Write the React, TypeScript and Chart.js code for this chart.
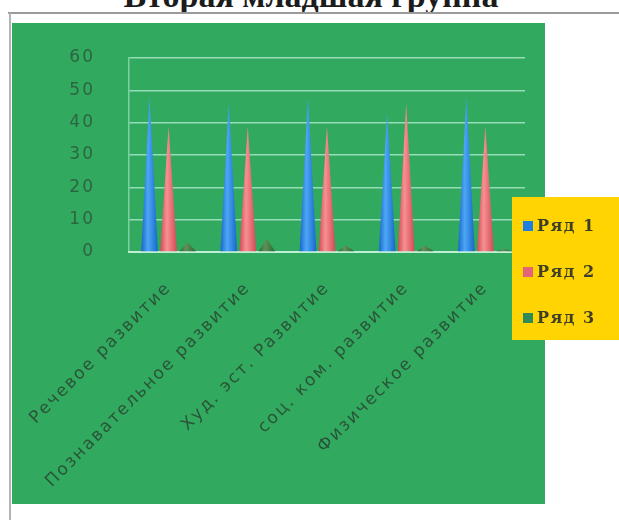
import React, { useEffect, useRef } from "react";
import { Chart, registerables } from "chart.js";

Chart.register(...registerables);

const titleText = "Вторая младшая группа";
const categories = [
  "Речевое развитие",
  "Познавательное развитие",
  "Худ. эст. Развитие",
  "соц. ком. развитие",
  "Физическое развитие",
];
const seriesNames = ["Ряд 1", "Ряд 2", "Ряд 3"];
const series1 = [48, 46, 48, 43, 48];
const series2 = [39, 39, 39, 46, 39];
const series3 = [3, 4, 2, 2, 1];
const yMin = 0;
const yMax = 60;
const yStep = 10;

const coneColors = [
  { dark: "#1668c8", light: "#4ea6f6", legend: "#1f7fe0" },
  { dark: "#d24a5a", light: "#f79090", legend: "#e2647a" },
  { dark: "#2c6636", light: "#5e9256", legend: "#2e8a58" },
];

const W = 607;
const H = 481;

const spacingPlugin = {
  id: "spacing",
  beforeUpdate(chart: any) {
    chart.ctx.letterSpacing = "2px";
  },
  beforeDraw(chart: any) {
    chart.ctx.letterSpacing = "2px";
  },
};

const backgroundPlugin = {
  id: "bg",
  beforeDraw(chart: any) {
    const ctx = chart.ctx;
    ctx.save();
    ctx.fillStyle = "#31a95f";
    ctx.fillRect(0, 0, 533, H);
    ctx.restore();
  },
};

const conePlugin = {
  id: "cones",
  afterDatasetsDraw(chart: any) {
    const ctx = chart.ctx;
    chart.data.datasets.forEach((ds: any, di: number) => {
      const meta = chart.getDatasetMeta(di);
      const c = coneColors[di];
      meta.data.forEach((el: any) => {
        const p = el.getProps(["x", "y", "base", "width"], true);
        const half = p.width / 2;
        const g = ctx.createLinearGradient(p.x - half, 0, p.x + half, 0);
        g.addColorStop(0, c.dark);
        g.addColorStop(0.4, c.light);
        g.addColorStop(1, c.dark);
        ctx.save();
        ctx.beginPath();
        ctx.moveTo(p.x - half, p.base);
        ctx.lineTo(p.x, p.y);
        ctx.lineTo(p.x + half, p.base);
        ctx.closePath();
        ctx.fillStyle = g;
        ctx.fill();
        ctx.restore();
      });
    });
  },
};

const legendPlugin = {
  id: "customLegend",
  afterDraw(chart: any) {
    const ctx = chart.ctx;
    ctx.save();
    ctx.fillStyle = "#ffd400";
    ctx.fillRect(500, 174, 107, 143);
    ctx.font = "bold 16px 'DejaVu Serif'";
    ctx.textBaseline = "middle";
    ctx.letterSpacing = "1.5px";
    chart.data.datasets.forEach((ds: any, i: number) => {
      const cy = 203 + i * 46;
      ctx.fillStyle = coneColors[i].legend;
      ctx.fillRect(511, cy - 5, 10, 10);
      ctx.fillStyle = "#3e3e2a";
      ctx.fillText(ds.label, 525, cy + 1);
    });
    ctx.restore();
  },
};

export default function App() {
  const ref = useRef<HTMLCanvasElement | null>(null);

  useEffect(() => {
    if (!ref.current) return;
    const values = [series1, series2, series3];
    const chart = new Chart(ref.current, {
      type: "bar",
      data: {
        labels: categories,
        datasets: values.map((v, i) => ({
          label: seriesNames[i],
          data: v,
          backgroundColor: "rgba(0,0,0,0)",
          borderWidth: 0,
          categoryPercentage: 0.72,
          barPercentage: 0.88,
        })),
      },
      options: {
        animation: false,
        responsive: false,
        layout: { autoPadding: false, padding: { top: 35, right: 94, left: 0, bottom: 0 } },
        plugins: {
          legend: { display: false },
          tooltip: { enabled: false },
          title: { display: false },
        },
        scales: {
          x: {
            grid: { display: false, drawTicks: false },
            border: { color: "rgba(195,240,215,0.95)", width: 2 },
            ticks: {
              color: "#2a5438",
              font: { family: "DejaVu Sans", size: 17 },
              minRotation: 45,
              maxRotation: 45,
              autoSkip: false,
              padding: 26,
            },
            afterFit(s: any) {
              s.height = 252;
              s.paddingLeft = 0;
              s.paddingRight = 0;
            },
          },
          y: {
            min: yMin,
            max: yMax,
            ticks: {
              stepSize: yStep,
              padding: 34,
              color: "#2d6441",
              font: { family: "DejaVu Sans", size: 17 },
            },
            grid: { color: "rgba(175,235,205,0.8)", lineWidth: 1.5, drawTicks: false },
            border: { display: true, color: "rgba(175,235,205,0.6)", width: 1.5 },
            afterFit(s: any) {
              s.width = 117;
              s.paddingTop = 0;
              s.paddingBottom = 0;
            },
          },
        },
      },
      plugins: [spacingPlugin, backgroundPlugin, conePlugin, legendPlugin],
    });
    return () => chart.destroy();
  }, []);

  return (
    <div
      style={{
        position: "absolute",
        left: 0,
        top: 0,
        width: 619,
        height: 520,
        overflow: "hidden",
        background: "#ffffff",
      }}
    >
      <div
        style={{
          position: "absolute",
          left: 0,
          top: -21,
          width: 622,
          textAlign: "center",
          font: "bold 34px 'Liberation Serif'",
          lineHeight: "34px",
          color: "#1c1c1c",
          whiteSpace: "nowrap",
        }}
      >
        {titleText}
      </div>
      <div style={{ position: "absolute", left: 8, top: 12, width: 611, height: 2, background: "#9a9a9a" }} />
      <div style={{ position: "absolute", left: 9, top: 13, width: 2, height: 507, background: "#b4b4b4" }} />
      <canvas
        ref={ref}
        width={W}
        height={H}
        style={{ position: "absolute", left: 12, top: 23, width: W, height: H }}
      />
    </div>
  );
}
